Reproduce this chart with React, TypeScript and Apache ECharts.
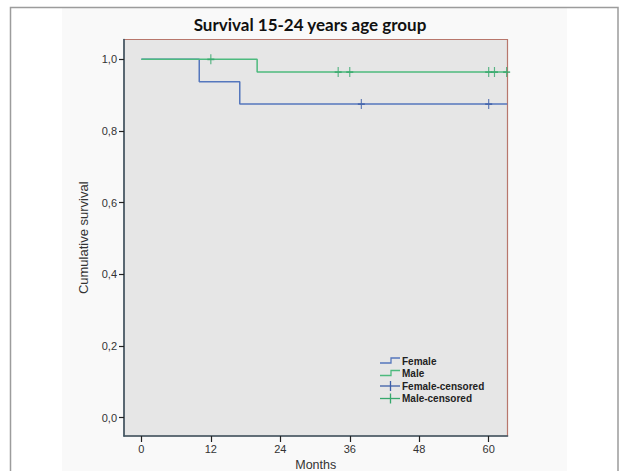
import React, { useEffect, useRef } from "react";
import * as echarts from "echarts";

const TITLE = "Survival 15-24 years age group";
const X_TICKS = [0, 12, 24, 36, 48, 60];
const Y_TICKS = [0, 0.2, 0.4, 0.6, 0.8, 1.0];

// Kaplan–Meier steps: [month, cumulative survival]
const femaleSteps: [number, number][] = [
  [0, 1.0],
  [10, 0.9375],
  [17, 0.875],
  [63.2, 0.875],
];
const maleSteps: [number, number][] = [
  [0, 1.0],
  [20, 0.9643],
  [63.2, 0.9643],
];
const femaleCensored: [number, number][] = [
  [38, 0.875],
  [60, 0.875],
];
const maleCensored: [number, number][] = [
  [12, 1.0],
  [34, 0.9643],
  [36, 0.9643],
  [60, 0.9643],
  [61, 0.9643],
  [63.1, 0.9643],
];

const LEGEND_NAMES = ["Female", "Male", "Female-censored", "Male-censored"];

const BLUE = "#5577bd";
const GREEN = "#4dba7e";
const BLUE_C = "#3d5fa8";
const GREEN_C = "#36a86c";
const AXIS = "#3d5866";
const CROSS = "path://M5,0 L5,10 M0,5 L10,5";
const FONT = "'Liberation Sans', Arial, sans-serif";

export default function App() {
  const ref = useRef<HTMLDivElement>(null);
  useEffect(() => {
    if (!ref.current) return;
    const chart = echarts.init(ref.current, undefined, { renderer: "svg" });
    const lx = 380;
    const rows = [361, 373.5, 386, 398.5];
    const legendColors = [BLUE, GREEN, BLUE_C, GREEN_C];
    const legendGraphics: any[] = [];
    rows.forEach((ry, i) => {
      if (i < 2) {
        legendGraphics.push({
          type: "polyline",
          z: 100,
          shape: {
            points: [
              [lx, ry + 2],
              [lx + 11, ry + 2],
              [lx + 11, ry - 3],
              [lx + 20, ry - 3],
            ],
          },
          style: { stroke: legendColors[i], lineWidth: 1.3, fill: null },
        });
      } else {
        legendGraphics.push({
          type: "line",
          z: 100,
          shape: { x1: lx, y1: ry, x2: lx + 20, y2: ry },
          style: { stroke: legendColors[i], lineWidth: 1.3 },
        });
        legendGraphics.push({
          type: "line",
          z: 100,
          shape: { x1: lx + 10.5, y1: ry - 5, x2: lx + 10.5, y2: ry + 5 },
          style: { stroke: legendColors[i], lineWidth: 1.3 },
        });
      }
      legendGraphics.push({
        type: "text",
        z: 100,
        x: 402,
        y: ry,
        style: {
          text: LEGEND_NAMES[i],
          fill: "#222",
          font: "bold 10px " + FONT,
          verticalAlign: "middle",
          align: "left",
        },
      });
    });

    const option: any = {
      animation: false,
      backgroundColor: "#ffffff",
      title: {
        text: TITLE,
        left: "center",
        top: 11,
        textStyle: {
          fontFamily: "Lato",
          fontWeight: "bold",
          fontSize: 17,
          color: "#111",
        },
      },
      graphic: [
        {
          type: "rect",
          z: -10,
          silent: true,
          shape: { x: 62, y: 8, width: 505, height: 470 },
          style: { fill: "#f9f9f9" },
        },
        {
          type: "rect",
          z: -5,
          silent: true,
          shape: { x: 10.5, y: 7.5, width: 607.5, height: 480 },
          style: { fill: null, stroke: "#9c9c9c", lineWidth: 1.5 },
        },
        ...legendGraphics,
      ],
      grid: {
        left: 124,
        right: 112.5,
        top: 39.5,
        bottom: 35,
        show: true,
        backgroundColor: "#e6e6e6",
        borderColor: "#b8776c",
        borderWidth: 1.2,
        containLabel: false,
        outerBoundsMode: "none",
      },
      xAxis: {
        type: "value",
        min: -3,
        max: 63.25,
        name: "Months",
        nameLocation: "middle",
        nameGap: 18,
        nameTextStyle: { fontFamily: FONT, fontSize: 12.5, color: "#333" },
        axisLine: { show: true, onZero: false, lineStyle: { color: AXIS, width: 1.6 } },
        axisTick: {
          show: true,
          length: 6,
          customValues: X_TICKS,
          lineStyle: { color: "#222", width: 1.2 },
        },
        axisLabel: {
          customValues: X_TICKS,
          margin: 7,
          fontFamily: FONT,
          fontSize: 11,
          color: "#333",
        },
        splitLine: { show: false },
      },
      yAxis: {
        type: "value",
        min: -0.051,
        max: 1.0553,
        name: "Cumulative survival",
        nameLocation: "middle",
        nameRotate: 90,
        nameGap: 34,
        nameTextStyle: { fontFamily: FONT, fontSize: 13, color: "#333" },
        axisLine: { show: true, onZero: false, lineStyle: { color: AXIS, width: 1.6 } },
        axisTick: {
          show: true,
          length: 5,
          customValues: Y_TICKS,
          lineStyle: { color: "#222", width: 1.2 },
        },
        axisLabel: {
          customValues: Y_TICKS,
          margin: 7,
          formatter: (v: number) => v.toFixed(1).replace(".", ","),
          fontFamily: FONT,
          fontSize: 11,
          color: "#333",
        },
        splitLine: { show: false },
      },
      series: [
        {
          name: "Female",
          type: "line",
          step: "end",
          data: femaleSteps,
          showSymbol: false,
          symbol: "none",
          lineStyle: { color: BLUE, width: 1.5 },
          z: 3,
        },
        {
          name: "Male",
          type: "line",
          step: "end",
          data: maleSteps,
          showSymbol: false,
          symbol: "none",
          lineStyle: { color: GREEN, width: 1.5 },
          z: 3,
        },
        {
          name: "Female-censored",
          type: "scatter",
          data: femaleCensored,
          symbol: CROSS,
          symbolSize: [7, 10],
          symbolKeepAspect: false,
          itemStyle: { color: BLUE_C, borderColor: BLUE_C, borderWidth: 1.4 },
          z: 4,
        },
        {
          name: "Male-censored",
          type: "scatter",
          data: maleCensored,
          symbol: CROSS,
          symbolSize: [7, 10],
          symbolKeepAspect: false,
          itemStyle: { color: GREEN_C, borderColor: GREEN_C, borderWidth: 1.4 },
          z: 4,
        },
      ],
    };
    chart.setOption(option);
    return () => chart.dispose();
  }, []);
  return (
    <div
      ref={ref}
      style={{ position: "fixed", left: 0, top: 0, width: 620, height: 471 }}
    />
  );
}
